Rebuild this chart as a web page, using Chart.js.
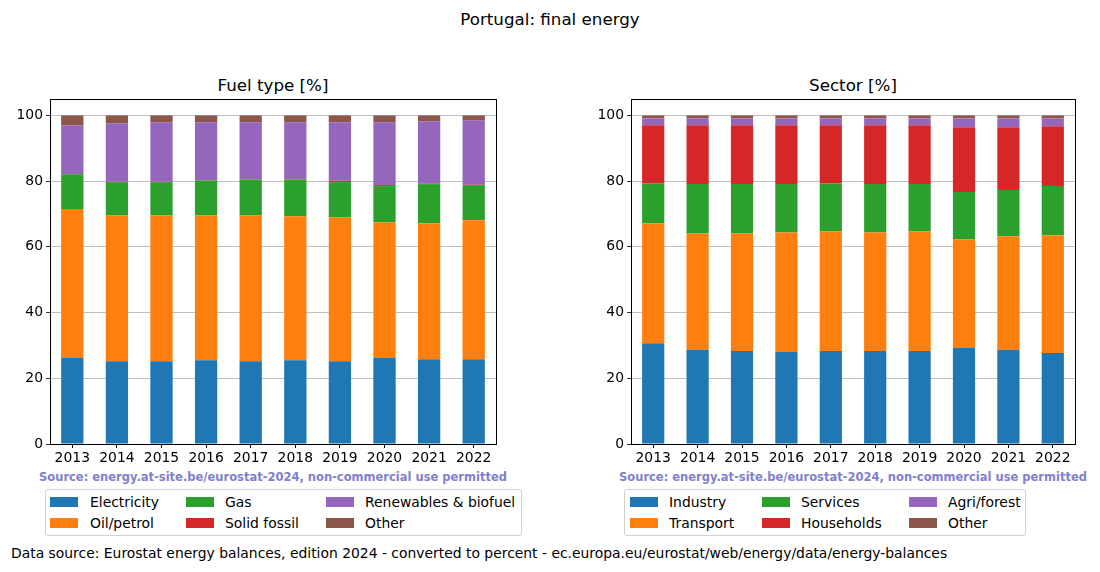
<!DOCTYPE html>
<html>
<head>
<meta charset="utf-8">
<script src="https://cdn.jsdelivr.net/npm/chart.js@4"></script>
<style>
  html, body { margin: 0; padding: 0; background: #fff; }
  body { width: 1100px; height: 572px; position: relative; overflow: hidden; font-family: "DejaVu Sans", sans-serif; color: #000; }
  .abs { position: absolute; white-space: nowrap; }
  #suptitle { left: 0; width: 1100px; top: 9px; text-align: center; font-size: 16.7px; line-height: 20px; }
  .ptitle { font-size: 16.7px; line-height: 20px; text-align: center; top: 75px; }
  .src { font-size: 11.5px; font-weight: bold; color: #8080cc; line-height: 14px; text-align: center; }
  .legend { border: 1px solid #d0d0d0; border-radius: 3px; box-sizing: border-box; }
  .legend .item { position: absolute; font-size: 13.9px; line-height: 16px; }
  .legend .patch { position: absolute; width: 28px; height: 10px; }
  #footer { left: 11px; top: 544px; font-size: 13.9px; line-height: 18px; }
  canvas { position: absolute; }
</style>
</head>
<body>
<div id="suptitle" class="abs">Portugal: final energy</div>
<div id="t1" class="abs ptitle" style="left:73px;width:400px;"></div>
<div id="t2" class="abs ptitle" style="left:653px;width:400px;"></div>
<canvas id="c1" width="540" height="400" style="left:0px;top:70px;width:540px;height:400px"></canvas>
<canvas id="c2" width="519" height="400" style="left:581px;top:70px;width:519px;height:400px"></canvas>
<div class="abs src" style="left:23px;width:500px;top:470px;">Source: energy.at-site.be/eurostat-2024, non-commercial use permitted</div>
<div class="abs src" style="left:603px;width:500px;top:470px;">Source: energy.at-site.be/eurostat-2024, non-commercial use permitted</div>
<div id="leg1" class="abs legend" style="left:45px;top:489px;width:477px;height:47px;"></div>
<div id="leg2" class="abs legend" style="left:624px;top:489px;width:402px;height:47px;"></div>
<div id="footer" class="abs">Data source: Eurostat energy balances, edition 2024 - converted to percent - ec.europa.eu/eurostat/web/energy/data/energy-balances</div>
<script>
const years = ['2013','2014','2015','2016','2017','2018','2019','2020','2021','2022'];
const yTicks = [0, 20, 40, 60, 80, 100];

// Fuel type [%]
const fuelElectricity = [26.2, 25.2, 25.2, 25.5, 25.2, 25.5, 25.2, 26.2, 25.8, 25.8];
const fuelOil         = [45.3, 44.4, 44.4, 44.1, 44.4, 43.8, 43.8, 41.3, 41.4, 42.3];
const fuelGas         = [10.6, 10.1, 10.1, 10.6, 10.9, 11.2, 10.7, 11.0, 11.9, 10.7];
const fuelSolid       = [0.1, 0.1, 0.1, 0.1, 0.1, 0.1, 0.4, 0.3, 0.1, 0.1];
const fuelRenewables  = [14.8, 17.8, 18.1, 17.6, 17.3, 17.3, 17.8, 19.1, 19.0, 19.6];
const fuelOther       = [3.0, 2.4, 2.1, 2.1, 2.1, 2.1, 2.1, 2.1, 1.8, 1.5];

// Sector [%]
const secIndustry   = [30.7, 28.7, 28.3, 28.0, 28.3, 28.3, 28.3, 29.2, 28.7, 27.7];
const secTransport  = [36.5, 35.4, 35.8, 36.4, 36.4, 36.1, 36.4, 33.1, 34.5, 35.8];
const secServices   = [12.1, 15.0, 15.0, 14.7, 14.6, 14.7, 14.4, 14.4, 14.1, 15.0];
const secHouseholds = [17.7, 17.9, 17.9, 17.9, 17.7, 17.9, 17.9, 19.7, 19.1, 18.2];
const secAgri       = [2.1, 2.1, 2.1, 2.1, 2.1, 2.1, 2.1, 2.7, 2.7, 2.4];
const secOther      = [0.9, 0.9, 0.9, 0.9, 0.9, 0.9, 0.9, 0.9, 0.9, 0.9];

const fuelLabels = ['Electricity', 'Oil/petrol', 'Gas', 'Solid fossil', 'Renewables & biofuel', 'Other'];
const sectorLabels = ['Industry', 'Transport', 'Services', 'Households', 'Agri/forest', 'Other'];
const colors = ['#1f77b4', '#ff7f0e', '#2ca02c', '#d62728', '#9467bd', '#8c564b'];

Chart.defaults.font.family = '"DejaVu Sans", sans-serif';
Chart.defaults.color = '#000';

const framePlugin = {
  id: 'frame',
  afterDraw(chart) {
    const a = chart.chartArea, ctx = chart.ctx;
    ctx.save();
    ctx.strokeStyle = '#000';
    ctx.lineWidth = 1;
    ctx.strokeRect(Math.round(a.left) + 0.5, Math.round(a.top) + 0.5, Math.round(a.right - a.left), Math.round(a.bottom - a.top));
    ctx.restore();
  }
};

function makeChart(id, title, titleEl, labels, series, padRight) {
  const datasets = labels.map((l, i) => ({
    label: l,
    data: series[i],
    backgroundColor: colors[i],
    borderWidth: 0,
    barPercentage: 0.5,
    categoryPercentage: 1.0
  }));
  const chart = new Chart(document.getElementById(id), {
    type: 'bar',
    data: { labels: years, datasets },
    options: {
      responsive: false,
      animation: false,
      layout: { padding: { left: 0, right: padRight, top: 29, bottom: 0 } },
      plugins: {
        legend: { display: false },
        tooltip: { enabled: false },
        title: { display: false }
      },
      scales: {
        x: {
          stacked: true,
          grid: { display: true, drawOnChartArea: false, drawTicks: true, tickLength: 4, offset: false, tickColor: '#000' },
          border: { display: true, color: '#000' },
          ticks: { font: { size: 13.9 }, color: '#000', padding: 2, maxRotation: 0 },
          afterFit(s) { s.height = 26; }
        },
        y: {
          stacked: true,
          min: 0, max: 105,
          z: 1,
          afterBuildTicks(s) { s.ticks = yTicks.map(v => ({ value: v })); },
          grid: { color: '#b0b0b0', lineWidth: 0.8, tickLength: 4, tickColor: '#000', drawTicks: true },
          border: { display: true, color: '#000' },
          ticks: { font: { size: 13.9 }, color: '#000', padding: 3 },
          afterFit(s) { s.width = 50; }
        }
      }
    },
    plugins: [framePlugin]
  });
  document.getElementById(titleEl).textContent = title;
  return chart;
}

const ch1 = makeChart('c1', 'Fuel type [%]', 't1', fuelLabels,
  [fuelElectricity, fuelOil, fuelGas, fuelSolid, fuelRenewables, fuelOther], 44);
const ch2 = makeChart('c2', 'Sector [%]', 't2', sectorLabels,
  [secIndustry, secTransport, secServices, secHouseholds, secAgri, secOther], 25);

function buildLegend(el, chart, colX) {
  chart.data.datasets.forEach((ds, i) => {
    const col = Math.floor(i / 2), row = i % 2;
    const p = document.createElement('div');
    p.className = 'patch';
    p.style.left = (colX[col][0]) + 'px';
    p.style.top = (7 + row * 21) + 'px';
    p.style.background = ds.backgroundColor;
    el.appendChild(p);
    const t = document.createElement('div');
    t.className = 'item';
    t.style.left = (colX[col][1]) + 'px';
    t.style.top = (4 + row * 21) + 'px';
    t.textContent = ds.label;
    el.appendChild(t);
  });
}
buildLegend(document.getElementById('leg1'), ch1, [[4, 44], [140, 179], [280, 319]]);
buildLegend(document.getElementById('leg2'), ch2, [[5, 44], [137, 176], [284, 323]]);
</script>
</body>
</html>
